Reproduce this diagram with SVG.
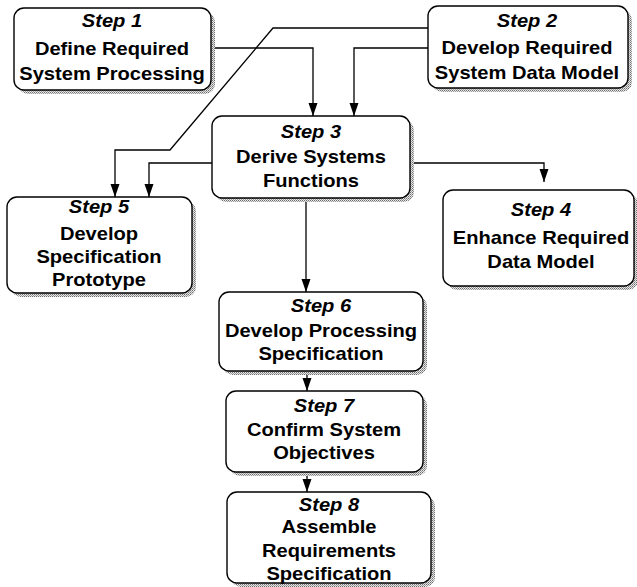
<svg xmlns="http://www.w3.org/2000/svg" width="637" height="587" viewBox="0 0 637 587">
  <defs>
    <!-- stippled drop shadow fill -->
    <pattern id="stipple" width="2" height="2" patternUnits="userSpaceOnUse">
      <rect width="2" height="2" fill="#e8e8e8"/>
      <rect x="0" y="0" width="1" height="1" fill="#6e6e6e"/>
      <rect x="1" y="1" width="1" height="1" fill="#9a9a9a"/>
    </pattern>
    <marker id="arrow" viewBox="0 -5 14 10" refX="13" refY="0" markerWidth="14" markerHeight="10" markerUnits="userSpaceOnUse" orient="auto">
      <path d="M0 -4.5 L13 0 L0 4.5 Z" fill="#000"/>
    </marker>
    <style>
      .shadow { fill: url(#stipple); stroke: none; }
      .box { fill: #ffffff; stroke: #000; stroke-width: 1.4; }
      .lbl { font-family: "Liberation Sans", Arial, sans-serif; font-size: 17.5px; font-weight: bold; fill: #000; text-anchor: middle; }
      .step { font-style: italic; }
      .link { fill: none; stroke: #000; stroke-width: 1.3; marker-end: url(#arrow); }
    </style>
  </defs>

  <rect width="637" height="587" fill="#ffffff"/>

  <g id="connectors">
    <path class="link" d="M211 48 H313 V116"/>
    <path class="link" d="M428 28 H273 L170 150 H115 V197"/>
    <path class="link" d="M428 48 H354 V116"/>
    <path class="link" d="M212 163 H149 V197"/>
    <path class="link" d="M410 163 H544 V182"/>
    <path class="link" d="M306 198 V292"/>
    <path class="link" d="M307 371 V391"/>
    <path class="link" d="M307 472 V492"/>
  </g>

  <g id="step1">
    <rect class="shadow" x="18" y="12" width="197" height="82" rx="10"/>
    <rect class="box" x="14" y="8" width="197" height="82" rx="10"/>
    <g transform="translate(112 0) scale(1.15 1)">
      <text class="lbl step" x="0" y="27">Step 1</text>
      <text class="lbl" x="0" y="55">Define Required</text>
      <text class="lbl" x="0" y="80">System Processing</text>
    </g>
  </g>

  <g id="step2">
    <rect class="shadow" x="432" y="10" width="200" height="82" rx="10"/>
    <rect class="box" x="428" y="6" width="200" height="82" rx="10"/>
    <g transform="translate(527 0) scale(1.15 1)">
      <text class="lbl step" x="0" y="27">Step 2</text>
      <text class="lbl" x="0" y="54">Develop Required</text>
      <text class="lbl" x="0" y="79">System Data Model</text>
    </g>
  </g>

  <g id="step3">
    <rect class="shadow" x="216" y="120" width="198" height="82" rx="10"/>
    <rect class="box" x="212" y="116" width="198" height="82" rx="10"/>
    <g transform="translate(311 0) scale(1.15 1)">
      <text class="lbl step" x="0" y="138">Step 3</text>
      <text class="lbl" x="0" y="163">Derive Systems</text>
      <text class="lbl" x="0" y="187">Functions</text>
    </g>
  </g>

  <g id="step5">
    <rect class="shadow" x="11" y="201" width="185" height="96" rx="10"/>
    <rect class="box" x="7" y="197" width="185" height="96" rx="10"/>
    <g transform="translate(99 0) scale(1.15 1)">
      <text class="lbl step" x="0" y="213">Step 5</text>
      <text class="lbl" x="0" y="240">Develop</text>
      <text class="lbl" x="0" y="263">Specification</text>
      <text class="lbl" x="0" y="286">Prototype</text>
    </g>
  </g>

  <g id="step4">
    <rect class="shadow" x="447" y="194" width="191" height="96" rx="10"/>
    <rect class="box" x="443" y="190" width="191" height="96" rx="10"/>
    <g transform="translate(541 0) scale(1.15 1)">
      <text class="lbl step" x="0" y="216">Step 4</text>
      <text class="lbl" x="0" y="244">Enhance Required</text>
      <text class="lbl" x="0" y="268">Data Model</text>
    </g>
  </g>

  <g id="step6">
    <rect class="shadow" x="223" y="296" width="204" height="79" rx="10"/>
    <rect class="box" x="219" y="292" width="204" height="79" rx="10"/>
    <g transform="translate(321 0) scale(1.15 1)">
      <text class="lbl step" x="0" y="312">Step 6</text>
      <text class="lbl" x="0" y="337">Develop Processing</text>
      <text class="lbl" x="0" y="360">Specification</text>
    </g>
  </g>

  <g id="step7">
    <rect class="shadow" x="230" y="395" width="197" height="81" rx="10"/>
    <rect class="box" x="226" y="391" width="197" height="81" rx="10"/>
    <g transform="translate(324 0) scale(1.15 1)">
      <text class="lbl step" x="0" y="412">Step 7</text>
      <text class="lbl" x="0" y="436">Confirm System</text>
      <text class="lbl" x="0" y="459">Objectives</text>
    </g>
  </g>

  <g id="step8">
    <rect class="shadow" x="231" y="496" width="204" height="91" rx="10"/>
    <rect class="box" x="227" y="492" width="204" height="91" rx="10"/>
    <g transform="translate(329 0) scale(1.15 1)">
      <text class="lbl step" x="0" y="511">Step 8</text>
      <text class="lbl" x="0" y="533">Assemble</text>
      <text class="lbl" x="0" y="557">Requirements</text>
      <text class="lbl" x="0" y="580">Specification</text>
    </g>
  </g>
</svg>
